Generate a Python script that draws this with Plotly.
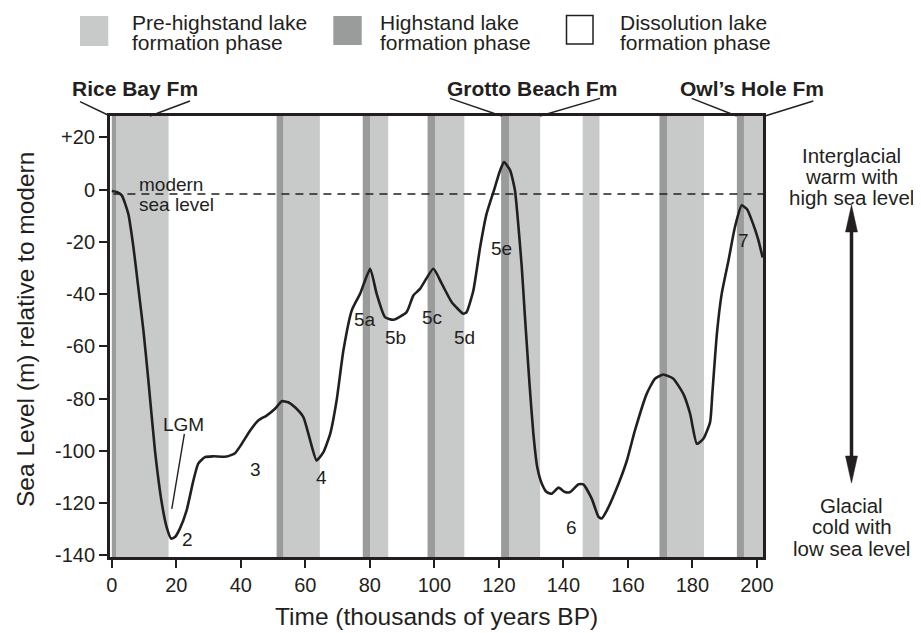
import plotly.graph_objects as go

# ---------------- data ----------------
time_kyr = [0, 1.5, 3.1, 5.1, 6.7, 8.2, 9.8, 11.3, 13.4, 15.5, 17.0, 18.4, 19.6, 21.1,
            23.2, 25.3, 26.8, 28.9, 31.5, 35.6, 38.2, 40.3, 42.9, 45.4, 48.0, 50.6,
            52.7, 54.7, 56.8, 59.4, 61.5, 63.5, 65.6, 67.7, 69.7, 71.8, 74.4, 77.0,
            80.1, 82.1, 84.7, 87.3, 91.4, 93.5, 95.6, 99.7, 102.3, 105.4, 109.0, 110.0,
            112.1, 114.2, 116.2, 118.8, 120.4, 121.6, 123.5, 125.0, 126.0, 127.1, 128.1,
            129.5, 130.7, 131.9, 133.3, 134.8, 136.4, 138.5, 140.5, 142.1, 144.7, 146.2,
            148.8, 150.9, 151.9, 153.5, 157.1, 159.7, 162.2, 165.9, 168.4, 171.0, 174.1,
            177.2, 179.3, 181.4, 183.4, 185.5, 186.2, 187.6, 189.1, 191.2, 193.2, 195.3,
            197.0, 198.8, 200.4, 201.8]
sea_level_m = [-0.5, -0.9, -2.2, -9.2, -22.0, -37.3, -53.9, -72.5, -100.1, -120.0, -129.2,
               -133.6, -133.0, -129.8, -122.8, -111.3, -104.9, -102.4, -102.1, -102.2,
               -100.9, -97.3, -92.2, -88.4, -86.5, -83.9, -81.0, -81.4, -83.3, -87.1, -96.0,
               -103.7, -100.5, -93.5, -80.7, -61.6, -46.2, -39.8, -30.3, -39.8, -48.8,
               -49.8, -46.9, -40.5, -37.9, -30.3, -36.0, -43.1, -47.5, -46.9, -38.6, -22.0,
               -9.2, 1.0, 7.4, 10.6, 7.4, -0.3, -13.0, -29.6, -48.8, -74.3, -93.4, -106.2,
               -112.5, -115.8, -116.4, -114.1, -115.8, -115.8, -112.8, -112.8, -118.3,
               -125.3, -125.9, -122.8, -112.6, -103.7, -92.2, -78.0, -72.4, -70.8, -72.4,
               -78.2, -85.8, -97.3, -95.4, -89.0, -78.0, -55.2, -39.8, -27.1, -14.3, -6.0,
               -7.6, -13.0, -19.0, -26.0]

# lake formation phases (start, end) in ka
highstand_start = [0.0, 51.1, 77.8, 97.9, 120.7, 169.8, 193.8]
highstand_end = [1.3, 53.2, 80.1, 100.2, 123.2, 172.2, 196.0]
prehigh_start = [1.3, 53.2, 80.1, 100.2, 123.2, 146.0, 172.2, 196.0]
prehigh_end = [17.6, 64.5, 85.7, 109.3, 132.8, 151.2, 183.6, 201.9]

modern_level_line = -1.7

x_ticks = [0, 20, 40, 60, 80, 100, 120, 140, 160, 180, 200]
y_ticks = [-140, -120, -100, -80, -60, -40, -20, 0, 20]
y_ticktext = ["-140", "-120", "-100", "-80", "-60", "-40", "-20", "0", "+20"]

stage_labels = ["LGM", "2", "3", "4", "5a", "5b", "5c", "5d", "5e", "6", "7"]
stage_x = [22.2, 23.4, 44.6, 65.1, 78.5, 88.1, 99.2, 109.5, 120.9, 142.6, 196.0]
stage_y = [-89.9, -134.1, -107.3, -110.1, -49.8, -56.5, -48.8, -56.5, -22.6, -129.5, -19.4]

formations = ["Rice Bay Fm", "Grotto Beach Fm", "Owl\u2019s Hole Fm"]

# ---------------- layout helpers ----------------
OFF = 8                      # page body margin of the html page
W, H = 921 - OFF, 633 - OFF
PL, PT, PWID, PHGT = 110, 116, 653, 441   # plot area in page pixels
ML, MT = PL - OFF, PT - OFF
MR = W - ML - PWID
MB = H - MT - PHGT
INK = "#231f20"
LIGHT = "#c8c9c9"
DARK = "#9a9b9b"
FONT = "Liberation Sans, Arial, Helvetica, sans-serif"


def px(x):
    return (x - PL) / PWID


def py(y):
    return (PT + PHGT - y) / PHGT


fig = go.Figure()

fig.add_trace(go.Scatter(x=time_kyr, y=sea_level_m, mode="lines",
                         line=dict(color=INK, width=2.6, shape="spline", smoothing=0.5),
                         hoverinfo="skip", showlegend=False))

shapes = []
for s, e in zip(prehigh_start, prehigh_end):
    shapes.append(dict(type="rect", xref="x", yref="paper", x0=s, x1=e, y0=0, y1=1,
                       fillcolor=LIGHT, line=dict(width=0), layer="below"))
for s, e in zip(highstand_start, highstand_end):
    shapes.append(dict(type="rect", xref="x", yref="paper", x0=s, x1=e, y0=0, y1=1,
                       fillcolor=DARK, line=dict(width=0), layer="below"))

# modern sea level dashed line
shapes.append(dict(type="line", xref="x", yref="y", x0=0.5, x1=201.9,
                   y0=modern_level_line, y1=modern_level_line,
                   line=dict(color=INK, width=1.5, dash="8px,6px"), layer="above"))

# legend boxes
shapes.append(dict(type="rect", xref="paper", yref="paper", x0=px(80), x1=px(108.3),
                   y0=py(46), y1=py(16), fillcolor=LIGHT, line=dict(width=0)))
shapes.append(dict(type="rect", xref="paper", yref="paper", x0=px(333.3), x1=px(361.7),
                   y0=py(45), y1=py(16), fillcolor=DARK, line=dict(width=0)))
shapes.append(dict(type="rect", xref="paper", yref="paper", x0=px(566.5), x1=px(593),
                   y0=py(44), y1=py(15.5), fillcolor="white", line=dict(color=INK, width=1.5)))

# formation leader lines
leaders = [((80, 101.7), (110, 116)), ((150, 116), (190, 101)),
           ((450, 98.3), (501.7, 116)), ((540, 116), (600, 98.3)),
           ((691.7, 98.3), (736.7, 116)), ((765, 116), (813.3, 101))]
for (xa, ya), (xb, yb) in leaders:
    shapes.append(dict(type="line", xref="paper", yref="paper", x0=px(xa), y0=py(ya),
                       x1=px(xb), y1=py(yb), line=dict(color=INK, width=1.4)))

# double arrow on right
AX = 851.5
shapes.append(dict(type="line", xref="paper", yref="paper", x0=px(AX), x1=px(AX),
                   y0=py(225), y1=py(463), line=dict(color=INK, width=3.5)))
shapes.append(dict(type="path", xref="paper", yref="paper",
                   path=f"M {px(AX)},{py(205)} L {px(AX-6)},{py(232)} L {px(AX+6)},{py(232)} Z",
                   fillcolor=INK, line=dict(color=INK, width=0.5)))
shapes.append(dict(type="path", xref="paper", yref="paper",
                   path=f"M {px(AX)},{py(483)} L {px(AX-6)},{py(456)} L {px(AX+6)},{py(456)} Z",
                   fillcolor=INK, line=dict(color=INK, width=0.5)))

# LGM pointer line
shapes.append(dict(type="line", xref="x", yref="y", x0=22.5, y0=-93.5, x1=18.6, y1=-122.2,
                   line=dict(color=INK, width=1.4)))

ann = []


def txt(x, y, t, size=20, anchor="center", bold=False, xref="paper", yref="paper"):
    ann.append(dict(x=x, y=y, xref=xref, yref=yref, text=f"<b>{t}</b>" if bold else t,
                    showarrow=False, xanchor=anchor, yanchor="middle",
                    font=dict(family=FONT, size=size, color=INK)))


# legend texts
for lx, first in [(130, "Pre-highstand lake"), (378.3, "Highstand lake"),
                  (618.3, "Dissolution lake")]:
    txt(px(lx), py(22.5), first, size=21, anchor="left")
    txt(px(lx), py(42.5), "formation phase", size=21, anchor="left")

# formation labels
for name, cx in zip(formations, [134.7, 531.7, 751.7]):
    txt(px(cx), py(88.5), name, size=21, bold=True)

# modern sea level text
txt(7.7, 1.8, "modern", size=19, anchor="left", xref="x", yref="y")
txt(7.7, -5.8, "sea level", size=19, anchor="left", xref="x", yref="y")

# stage labels
for lab, sx, sy in zip(stage_labels, stage_x, stage_y):
    txt(sx, sy, lab, size=19, xref="x", yref="y")

# right side notes
for t, yy in [("Interglacial", 155), ("warm with", 176), ("high sea level", 197),
              ("Glacial", 505), ("cold with", 526.5), ("low sea level", 548)]:
    txt(px(852), py(yy), t, size=20.5)

# axis titles
txt(px(437), py(616), "Time (thousands of years BP)", size=24.5)
ann.append(dict(x=px(25), y=py(330), xref="paper", yref="paper",
                text="Sea Level (m) relative to modern", textangle=-90, showarrow=False,
                xanchor="center", yanchor="middle", font=dict(family=FONT, size=24.5, color=INK)))

fig.update_layout(
    width=W, height=H, margin=dict(l=ML, r=MR, t=MT, b=MB, autoexpand=False),
    paper_bgcolor="white", plot_bgcolor="white",
    shapes=shapes, annotations=ann, showlegend=False,
    font=dict(family=FONT, color=INK),
    xaxis=dict(range=[-0.56, 201.9], tickvals=x_ticks, ticks="outside", ticklen=8,
               tickwidth=1.5, tickcolor=INK, showline=True, linewidth=3, linecolor=INK,
               mirror=True, showgrid=False, zeroline=False,
               tickfont=dict(size=20, family=FONT, color=INK)),
    yaxis=dict(range=[-140.65, 28.2], tickvals=y_ticks, ticktext=y_ticktext, ticks="outside",
               ticklen=8, tickwidth=1.5, tickcolor=INK, showline=True, linewidth=3,
               linecolor=INK, mirror=True, showgrid=False, zeroline=False,
               tickfont=dict(size=20, family=FONT, color=INK)),
)

fig.write_html("out.html")
